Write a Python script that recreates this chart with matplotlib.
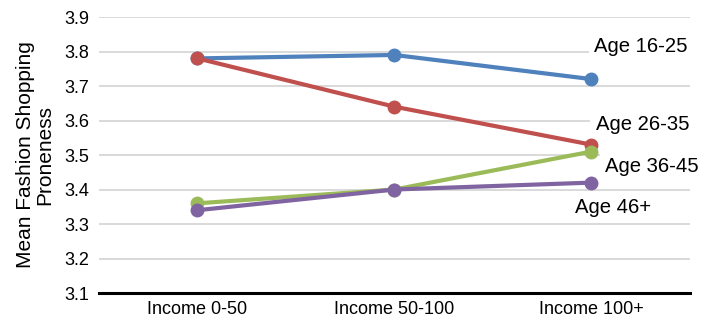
import matplotlib
matplotlib.use("Agg")
import matplotlib.pyplot as plt

plt.rcParams["font.family"] = ["Liberation Sans", "DejaVu Sans"]

# Mean fashion shopping proneness by income band, one line per age group
income = ["Income 0-50", "Income 50-100", "Income 100+"]
age_16_25 = [3.78, 3.79, 3.72]
age_26_35 = [3.78, 3.64, 3.53]
age_36_45 = [3.36, 3.40, 3.51]
age_46_plus = [3.34, 3.40, 3.42]

series = [
    ("Age 16-25", age_16_25, "#4F81BD", (2.013, 3.815)),
    ("Age 26-35", age_26_35, "#C0504D", (2.023, 3.587)),
    ("Age 36-45", age_36_45, "#9BBB59", (2.069, 3.468)),
    ("Age 46+", age_46_plus, "#8064A2", (1.916, 3.349)),
]

fig = plt.figure(figsize=(7.04, 3.21), dpi=100)
ax = fig.add_axes([0.1406, 0.0872, 0.8394, 0.8598])

x = range(len(income))
for label, vals, color, (tx, ty) in series:
    ax.plot(x, vals, color=color, linewidth=3, marker="o", markersize=9,
            zorder=3, solid_capstyle="round")
    ax.text(tx, ty, label, fontsize=14.6, va="center", ha="left", zorder=2,
            bbox=dict(facecolor="white", edgecolor="none", pad=4))

ax.set_xlim(-0.5, 2.5)
ax.set_ylim(3.1, 3.9)
ax.set_yticks([3.1 + 0.1 * i for i in range(9)])
ax.set_yticklabels([f"{3.1 + 0.1 * i:.1f}" for i in range(9)])
ax.set_xticks(list(x))
ax.set_xticklabels(income)
ax.tick_params(axis="both", length=0, labelsize=13)
ax.tick_params(axis="y", pad=7)
ax.tick_params(axis="x", pad=6)

ax.yaxis.grid(True, color="#D9D9D9", linewidth=1.4, zorder=0)
ax.set_axisbelow(True)
for side in ["top", "right", "left"]:
    ax.spines[side].set_visible(False)
ax.spines["bottom"].set_linewidth(2.2)
ax.spines["bottom"].set_color("black")

ax.set_ylabel("Mean Fashion Shopping\nProneness", fontsize=15,
              linespacing=1.05, labelpad=7)

fig.savefig("out.png", dpi=100)
